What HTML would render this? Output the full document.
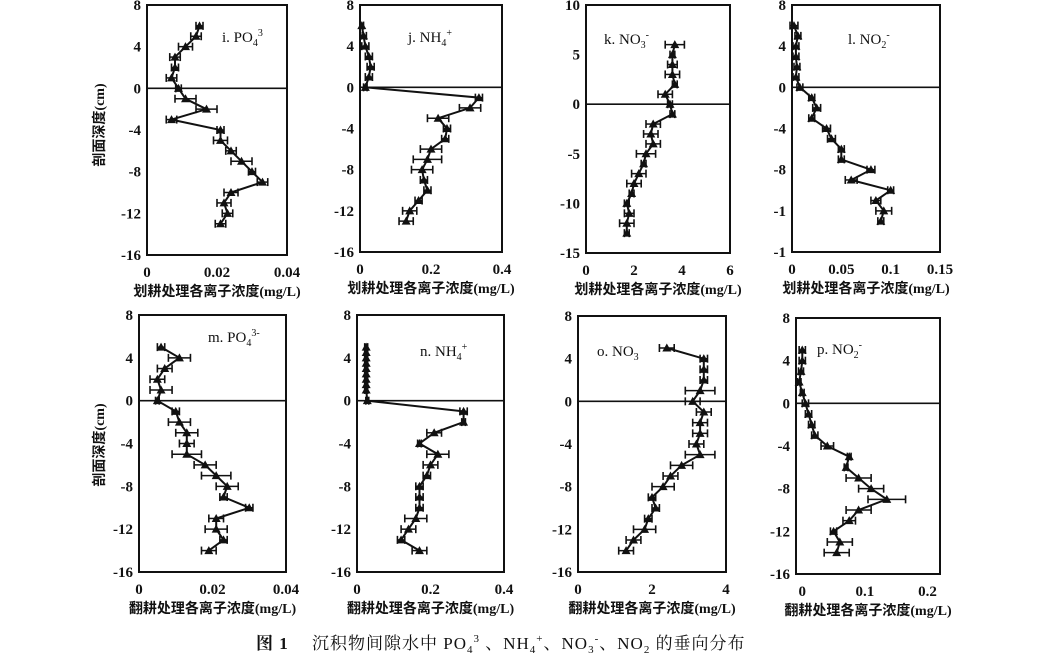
<!DOCTYPE html>
<html><head><meta charset="utf-8"><style>
html,body{margin:0;padding:0;background:#fff;}
svg{display:block;}
text{font-family:"Liberation Serif","Noto Serif CJK SC",serif;fill:#111;}
.t{font-size:15px;font-weight:bold;}
.cj{font-family:"Liberation Serif","Noto Sans CJK SC",sans-serif;font-size:14px;font-weight:bold;}
</style></head><body>
<svg id="s" width="1053" height="658" viewBox="0 0 1053 658" xmlns="http://www.w3.org/2000/svg">
<text class="cj" x="0" y="0" transform="translate(104,125) rotate(-90)" text-anchor="middle">剖面深度(cm)</text>
<text class="cj" x="0" y="0" transform="translate(104,445) rotate(-90)" text-anchor="middle">剖面深度(cm)</text>
<text x="256" y="649" style="font-family:'Liberation Serif','Noto Serif CJK SC',serif;font-size:17px;letter-spacing:1px"><tspan font-weight="bold">图 1</tspan>　 沉积物间隙水中 PO<tspan font-size="11" dy="4">4</tspan><tspan font-size="11" dy="-11">3</tspan><tspan dy="7"> 、NH</tspan><tspan font-size="11" dy="4">4</tspan><tspan font-size="11" dy="-11">+</tspan><tspan dy="7">、NO</tspan><tspan font-size="11" dy="4">3</tspan><tspan font-size="11" dy="-11">-</tspan><tspan dy="7">、NO</tspan><tspan font-size="11" dy="4">2</tspan><tspan dy="-4"> 的垂向分布</tspan></text>
</svg>
<script>
var S=document.getElementById('s'),NS='http://www.w3.org/2000/svg';
function el(n,a,t){var e=document.createElementNS(NS,n);for(var k in a)e.setAttribute(k,a[k]);if(t!=null)e.textContent=t;S.appendChild(e);return e;}
function panel(p){
 var X=v=>p.x0+(v-p.xmin)/(p.xmax-p.xmin)*(p.x1-p.x0);
 var Y=v=>p.y0+(p.ymax-v)/(p.ymax-p.ymin)*(p.y1-p.y0);
 el('rect',{x:p.x0,y:p.y0,width:p.x1-p.x0,height:p.y1-p.y0,fill:'none',stroke:'#111','stroke-width':2});
 el('line',{x1:p.x0,x2:p.x1,y1:Y(0),y2:Y(0),stroke:'#111','stroke-width':1.6});
 p.yt.forEach(function(t,i){el('text',{x:p.x0-6,y:Y(t[0])+5,'text-anchor':'end','class':'t'},t[1]);});
 p.xt.forEach(function(t){el('text',{x:X(t[0]),y:p.y1+22,'text-anchor':'middle','class':'t'},t[1]);});
 el('text',{x:(p.x0+p.x1)/2,y:p.y1+41,'text-anchor':'middle','class':'cj'},p.xl);
 var pts=p.d.map(d=>X(d[0]).toFixed(1)+','+Y(d[1]).toFixed(1)).join(' ');
 el('polyline',{points:pts,fill:'none',stroke:'#111','stroke-width':2});
 p.d.forEach(function(d){var x=X(d[0]),y=Y(d[1]),a=X(d[0]-d[2]),b=X(d[0]+d[2]);
  el('line',{x1:a,x2:b,y1:y,y2:y,stroke:'#111','stroke-width':1.5});
  el('line',{x1:a,x2:a,y1:y-4,y2:y+4,stroke:'#111','stroke-width':1.6});
  el('line',{x1:b,x2:b,y1:y-4,y2:y+4,stroke:'#111','stroke-width':1.6});
  el('polygon',{points:(x-4.5)+','+(y+3.5)+' '+(x+4.5)+','+(y+3.5)+' '+x+','+(y-4.5),fill:'#111'});});
 var g=el('text',{x:p.lx,y:p.ly,style:'font-size:15px'});g.innerHTML=p.lab;
}
var Y16=[[8,'8'],[4,'4'],[0,'0'],[-4,'-4'],[-8,'-8'],[-12,'-12'],[-16,'-16']];
var A='划耕处理各离子浓度(mg/L)',B='翻耕处理各离子浓度(mg/L)';
function sub(b,s,u){return b+'<tspan font-size="10" dy="4">'+s+'</tspan><tspan font-size="10" dy="-10">'+u+'</tspan>';}
panel({x0:147,x1:287,y0:5,y1:255,xmin:0,xmax:0.04,ymin:-16,ymax:8,yt:Y16,xt:[[0,'0'],[0.02,'0.02'],[0.04,'0.04']],xl:A,lx:222,ly:42,lab:sub('i. PO','4','3'),
d:[[.015,6,.001],[.014,5,.0015],[.011,4,.002],[.008,3,.0015],[.008,2,.001],[.007,1,.0015],[.009,0,.0008],[.011,-1,.003],[.017,-2,.003],[.007,-3,.0015],[.021,-4,.001],[.021,-5,.002],[.024,-6,.0015],[.027,-7,.003],[.030,-8,.001],[.033,-9,.0015],[.024,-10,.002],[.022,-11,.002],[.023,-12,.0015],[.021,-13,.0015]]});
panel({x0:360,x1:502,y0:5,y1:252,xmin:0,xmax:0.4,ymin:-16,ymax:8,yt:Y16,xt:[[0,'0'],[0.2,'0.2'],[0.4,'0.4']],xl:A,lx:408,ly:42,lab:sub('j. NH','4','+'),
d:[[.005,6,.005],[.01,5,.008],[.015,4,.01],[.025,3,.01],[.03,2,.01],[.025,1,.01],[.015,0,.005],[.335,-1,.01],[.31,-2,.03],[.22,-3,.03],[.245,-4,.01],[.24,-5,.01],[.2,-6,.03],[.19,-7,.04],[.175,-8,.03],[.18,-9,.01],[.19,-10,.01],[.165,-11,.01],[.14,-12,.02],[.13,-13,.02]]});
panel({x0:586,x1:730,y0:5,y1:253,xmin:0,xmax:6,ymin:-15,ymax:10,yt:[[10,'10'],[5,'5'],[0,'0'],[-5,'-5'],[-10,'-10'],[-15,'-15']],xt:[[0,'0'],[2,'2'],[4,'4'],[6,'6']],xl:A,lx:604,ly:44,lab:sub('k. NO','3','-'),
d:[[3.7,6,.4],[3.6,5,.1],[3.6,4,.2],[3.6,3,.3],[3.7,2,.1],[3.3,1,.3],[3.5,0,.1],[3.6,-1,.1],[2.8,-2,.3],[2.7,-3,.3],[2.8,-4,.3],[2.5,-5,.4],[2.4,-6,.1],[2.2,-7,.3],[2.0,-8,.3],[1.9,-9,.1],[1.7,-10,.1],[1.8,-11,.2],[1.7,-12,.3],[1.7,-13,.1]]});
panel({x0:792,x1:940,y0:5,y1:252,xmin:0,xmax:0.15,ymin:-16,ymax:8,yt:[[8,'8'],[4,'4'],[0,'0'],[-4,'-4'],[-8,'-8'],[-12,'-1'],[-16,'-1']],xt:[[0,'0'],[0.05,'0.05'],[0.1,'0.1'],[0.15,'0.15']],xl:A,lx:848,ly:44,lab:sub('l. NO','2','-'),
d:[[.002,6,.004],[.006,5,.003],[.004,4,.003],[.004,3,.003],[.005,2,.003],[.004,1,.003],[.008,0,.003],[.02,-1,.003],[.025,-2,.004],[.02,-3,.003],[.035,-4,.004],[.04,-5,.004],[.05,-6,.003],[.05,-7,.003],[.08,-8,.004],[.06,-9,.006],[.1,-10,.003],[.085,-11,.005],[.093,-12,.008],[.09,-13,.003]]});
panel({x0:139,x1:286,y0:315,y1:572,xmin:0,xmax:0.04,ymin:-16,ymax:8,yt:Y16,xt:[[0,'0'],[0.02,'0.02'],[0.04,'0.04']],xl:B,lx:208,ly:342,lab:sub('m. PO','4','3-'),
d:[[.006,5,.001],[.011,4,.003],[.007,3,.002],[.005,2,.002],[.006,1,.003],[.005,0,.0005],[.01,-1,.001],[.011,-2,.003],[.013,-3,.003],[.013,-4,.002],[.013,-5,.004],[.018,-6,.003],[.021,-7,.004],[.024,-8,.003],[.023,-9,.001],[.030,-10,.001],[.021,-11,.002],[.021,-12,.003],[.023,-13,.001],[.019,-14,.002]]});
panel({x0:357,x1:504,y0:315,y1:572,xmin:0,xmax:0.4,ymin:-16,ymax:8,yt:Y16,xt:[[0,'0'],[0.2,'0.2'],[0.4,'0.4']],xl:B,lx:420,ly:356,lab:sub('n. NH','4','+'),
d:[[.025,5,.004],[.025,4.5,.004],[.025,4,.004],[.025,3.5,.004],[.025,3,.004],[.025,2.5,.004],[.025,2,.004],[.025,1.5,.004],[.025,1,.004],[.028,0,.004],[.29,-1,.01],[.29,-2,.005],[.21,-3,.02],[.17,-4,.005],[.22,-5,.03],[.20,-6,.02],[.19,-7,.01],[.17,-8,.01],[.17,-9,.01],[.17,-10,.01],[.16,-11,.03],[.14,-12,.02],[.12,-13,.01],[.17,-14,.02]]});
panel({x0:578,x1:726,y0:316,y1:572,xmin:0,xmax:4,ymin:-16,ymax:8,yt:Y16,xt:[[0,'0'],[2,'2'],[4,'4']],xl:B,lx:597,ly:356,lab:'o. NO<tspan font-size="10" dy="4">3</tspan>',
d:[[2.4,5,.2],[3.4,4,.1],[3.4,3,.1],[3.4,2,.1],[3.3,1,.4],[3.1,0,.2],[3.4,-1,.2],[3.3,-2,.2],[3.3,-3,.2],[3.2,-4,.2],[3.3,-5,.4],[2.8,-6,.3],[2.5,-7,.2],[2.3,-8,.3],[2.0,-9,.1],[2.1,-10,.1],[1.9,-11,.1],[1.8,-12,.3],[1.5,-13,.2],[1.3,-14,.2]]});
panel({x0:796,x1:940,y0:318,y1:574,xmin:-0.01,xmax:0.22,ymin:-16,ymax:8,yt:Y16,xt:[[0,'0'],[0.1,'0.1'],[0.2,'0.2']],xl:B,lx:817,ly:354,lab:sub('p. NO','2','-'),
d:[[0,5,.005],[0,4,.005],[-.002,3,.004],[-.005,2,.003],[0,1,.003],[.005,0,.005],[.01,-1,.005],[.015,-2,.005],[.02,-3,.005],[.04,-4,.01],[.075,-5,.003],[.07,-6,.003],[.09,-7,.02],[.11,-8,.02],[.135,-9,.03],[.09,-10,.02],[.075,-11,.01],[.05,-12,.005],[.06,-13,.02],[.055,-14,.02]]});
</script>
</body></html>
